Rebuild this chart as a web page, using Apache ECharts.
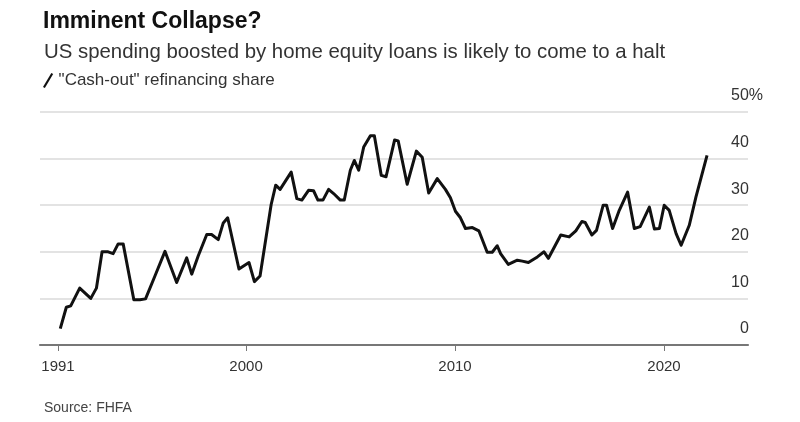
<!DOCTYPE html>
<html>
<head>
<meta charset="utf-8">
<script src="https://cdn.jsdelivr.net/npm/echarts@6/dist/echarts.min.js"></script>
<style>
html,body{margin:0;padding:0;background:#fff;}
#chart{width:800px;height:422px;}
</style>
</head>
<body>
<div id="chart"></div>
<script>
// cash-out refi share (year, percent)
var years = [1991.11,1991.40,1991.61,1992.04,1992.57,1992.84,1993.11,1993.40,1993.64,1993.88,1994.12,1994.63,1994.92,1995.19,1995.64,1996.12,1996.68,1997.16,1997.40,1997.71,1998.12,1998.35,1998.67,1998.91,1999.12,1999.66,2000.14,2000.40,2000.67,2001.20,2001.42,2001.63,2002.16,2002.43,2002.67,2002.99,2003.23,2003.44,2003.68,2003.95,2004.19,2004.51,2004.70,2004.99,2005.18,2005.39,2005.63,2005.95,2006.14,2006.47,2006.70,2007.11,2007.28,2007.71,2008.15,2008.43,2008.74,2009.15,2009.54,2009.78,2010.02,2010.26,2010.50,2010.83,2011.14,2011.54,2011.78,2012.02,2012.18,2012.55,2012.98,2013.22,2013.51,2013.94,2014.26,2014.47,2015.06,2015.46,2015.78,2016.07,2016.23,2016.55,2016.77,2017.09,2017.25,2017.54,2017.86,2018.26,2018.58,2018.86,2019.30,2019.54,2019.78,2020.01,2020.25,2020.58,2020.82,2021.21,2021.53,2022.06];
var shares = [3.5,8.1,8.4,12.2,10.0,12.2,20.0,20.0,19.6,21.7,21.7,9.7,9.7,9.9,14.8,20.1,13.4,18.7,15.2,19.1,23.7,23.7,22.6,26.2,27.3,16.3,17.7,13.6,14.8,30.1,34.3,33.4,37.1,31.4,31.1,33.2,33.1,31.1,31.1,33.4,32.5,31.1,31.1,37.5,39.6,37.5,42.5,44.9,44.9,36.4,36.1,44.0,43.8,34.5,41.6,40.3,32.6,35.7,33.4,31.6,28.7,27.3,25.0,25.2,24.5,19.9,19.9,21.3,19.6,17.3,18.2,18.0,17.7,18.9,20.0,18.6,23.6,23.2,24.5,26.5,26.3,23.6,24.6,30.0,30.0,25.0,28.9,32.8,25.0,25.4,29.6,24.9,25.0,30.0,28.9,23.9,21.4,25.7,31.8,40.7];
var yearTicks = [1991, 2000, 2010, 2020];
var seriesName = '"Cash-out" refinancing share';

var font = 'Liberation Sans, Arial, sans-serif';

var points = [];
for (var i = 0; i < years.length; i++) {
    points.push([years[i], shares[i]]);
}

var myChart = echarts.init(document.getElementById('chart'));
var option = {
    backgroundColor: '#fff',
    animation: false,
    textStyle: { fontFamily: font },
    title: [
        { text: 'Imminent Collapse?', left: 38, top: 5,
          textStyle: { fontFamily: font, fontSize: 23, fontWeight: 'bold', color: '#111' } },
        { text: 'US spending boosted by home equity loans is likely to come to a halt', left: 39, top: 37,
          textStyle: { fontFamily: font, fontSize: 20.4, fontWeight: 'normal', color: '#333' } },
        { text: 'Source: FHFA', left: 39, top: 396,
          textStyle: { fontFamily: font, fontSize: 14, fontWeight: 'normal', color: '#444' } }
    ],
    legend: {
        left: 38, top: 67,
        itemWidth: 11, itemHeight: 15, itemGap: 6,
        icon: 'path://M0,15 L9,0 L11,1.2 L2,16.2 Z',
        textStyle: { fontFamily: font, fontSize: 17, color: '#333' },
        data: [seriesName]
    },
    grid: { left: 40, right: 52, top: 112, bottom: 77 },
    xAxis: {
        type: 'value',
        min: 1990.14, max: 2024.02,
        splitLine: { show: false },
        axisLine: { show: true, lineStyle: { color: '#777', width: 2.2 } },
        axisTick: { show: true, customValues: yearTicks, length: 6, lineStyle: { color: '#777', width: 1 } },
        axisLabel: {
            customValues: yearTicks, margin: 14,
            fontFamily: font, fontSize: 15, color: '#333',
            formatter: function (v) { return String(Math.round(v)); }
        }
    },
    yAxis: {
        type: 'value', position: 'right',
        min: 0, max: 50, interval: 10,
        axisLine: { show: false },
        axisTick: { show: false },
        splitLine: { lineStyle: { color: '#dadada', width: 1.5 } },
        axisLabel: {
            inside: false, margin: 15, align: 'right', verticalAlign: 'bottom',
            formatter: function (v) {
                return '{n|' + v + '}' + (v === 50 ? '{p|%}' : '{h|%}');
            },
            rich: {
                n: { fontFamily: font, fontSize: 16, color: '#333', lineHeight: 32 },
                p: { fontFamily: font, fontSize: 16, color: '#333', lineHeight: 32 },
                h: { fontFamily: font, fontSize: 16, color: 'rgba(0,0,0,0)', lineHeight: 32 }
            }
        }
    },
    series: [{
        name: seriesName,
        type: 'line',
        data: points,
        showSymbol: false,
        symbol: 'none',
        lineStyle: { color: '#111', width: 3, join: 'round' },
        itemStyle: { color: '#111' }
    }]
};
myChart.setOption(option);
</script>
</body>
</html>
